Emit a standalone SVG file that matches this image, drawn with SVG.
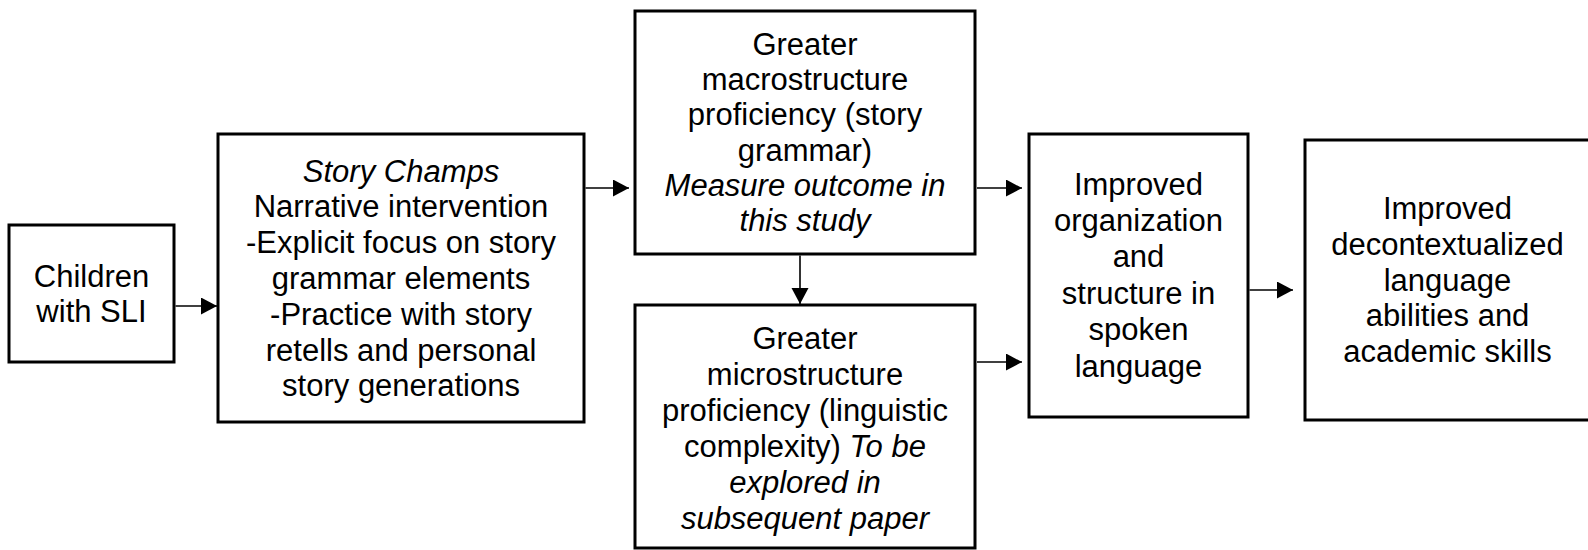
<svg xmlns="http://www.w3.org/2000/svg" width="1588" height="550" viewBox="0 0 1588 550">
<style>
.box{fill:#fff;stroke:#000;stroke-width:3}
.t{font-family:"Liberation Sans",Arial,sans-serif;font-size:31px;fill:#000;text-anchor:middle}
.i{font-style:italic}
.c{stroke:#000;stroke-width:1.6;fill:none;marker-end:url(#ah)}
</style>
<defs>
<marker id="ah" markerUnits="userSpaceOnUse" markerWidth="17" markerHeight="18" refX="16" refY="8.5" orient="auto">
<path d="M0,0 L16,8.5 L0,17 Z" fill="#000"/>
</marker>
</defs>
<rect width="1588" height="550" fill="#fff"/>
<g id="n1">
<rect class="box" x="9" y="225" width="165" height="137"/>
<text class="t" x="91.5" y="287">Children</text>
<text class="t" x="91.5" y="322">with SLI</text>
</g>
<g id="n2">
<rect class="box" x="218" y="134" width="366" height="288"/>
<text class="t i" x="401" y="181.5">Story Champs</text>
<text class="t" x="401" y="217.3">Narrative intervention</text>
<text class="t" x="401" y="253.1">-Explicit focus on story</text>
<text class="t" x="401" y="288.9">grammar elements</text>
<text class="t" x="401" y="324.7">-Practice with story</text>
<text class="t" x="401" y="360.5">retells and personal</text>
<text class="t" x="401" y="396.3">story generations</text>
</g>
<g id="n3">
<rect class="box" x="635" y="11" width="340" height="243"/>
<text class="t" x="805" y="55">Greater</text>
<text class="t" x="805" y="90.2">macrostructure</text>
<text class="t" x="805" y="125.4">proficiency (story</text>
<text class="t" x="805" y="160.6">grammar)</text>
<text class="t i" x="805" y="195.8">Measure outcome in</text>
<text class="t i" x="805" y="231">this study</text>
</g>
<g id="n4">
<rect class="box" x="635" y="305" width="340" height="243"/>
<text class="t" x="805" y="348.5">Greater</text>
<text class="t" x="805" y="384.5">microstructure</text>
<text class="t" x="805" y="420.5">proficiency (linguistic</text>
<text class="t" x="805" y="456.5">complexity) <tspan class="i">To be</tspan></text>
<text class="t i" x="805" y="492.5">explored in</text>
<text class="t i" x="805" y="528.5">subsequent paper</text>
</g>
<g id="n5">
<rect class="box" x="1029" y="134" width="219" height="283"/>
<text class="t" x="1138.5" y="194.5">Improved</text>
<text class="t" x="1138.5" y="230.9">organization</text>
<text class="t" x="1138.5" y="267.3">and</text>
<text class="t" x="1138.5" y="303.7">structure in</text>
<text class="t" x="1138.5" y="340.1">spoken</text>
<text class="t" x="1138.5" y="376.5">language</text>
</g>
<g id="n6">
<rect class="box" x="1305" y="140" width="285" height="280"/>
<text class="t" x="1447.5" y="219">Improved</text>
<text class="t" x="1447.5" y="254.8">decontextualized</text>
<text class="t" x="1447.5" y="290.5">language</text>
<text class="t" x="1447.5" y="326.3">abilities and</text>
<text class="t" x="1447.5" y="362">academic skills</text>
</g>
<g id="connectors">
<line class="c" x1="175.5" y1="306" x2="217" y2="306"/>
<line class="c" x1="585.5" y1="188" x2="629" y2="188"/>
<line class="c" x1="800" y1="255.5" x2="800" y2="304"/>
<line class="c" x1="977" y1="188" x2="1022" y2="188"/>
<line class="c" x1="977" y1="362" x2="1022" y2="362"/>
<line class="c" x1="1249.5" y1="290" x2="1293" y2="290"/>
</g>
</svg>
